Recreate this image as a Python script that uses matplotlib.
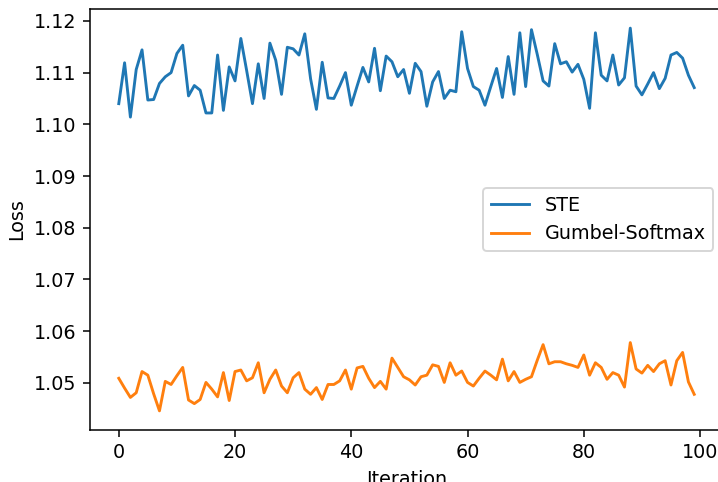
import matplotlib
matplotlib.use("Agg")
import matplotlib.pyplot as plt
import numpy as np

iterations = list(range(100))

ste_loss = [
    1.1040, 1.1119, 1.1014, 1.1106, 1.1144, 1.1047, 1.1048, 1.1079, 1.1092, 1.1100,
    1.1137, 1.1153, 1.1055, 1.1075, 1.1066, 1.1022, 1.1022, 1.1134, 1.1027, 1.1111,
    1.1084, 1.1166, 1.1104, 1.1040, 1.1117, 1.1050, 1.1157, 1.1124, 1.1058, 1.1149,
    1.1146, 1.1134, 1.1175, 1.1088, 1.1029, 1.1120, 1.1051, 1.1050, 1.1074, 1.1100,
    1.1037, 1.1074, 1.1110, 1.1082, 1.1147, 1.1065, 1.1132, 1.1121, 1.1092, 1.1106,
    1.1060, 1.1118, 1.1102, 1.1035, 1.1082, 1.1102, 1.1050, 1.1066, 1.1063, 1.1179,
    1.1108, 1.1073, 1.1066, 1.1037, 1.1073, 1.1108, 1.1052, 1.1131, 1.1058, 1.1177,
    1.1073, 1.1183, 1.1135, 1.1084, 1.1074, 1.1156, 1.1117, 1.1121, 1.1101, 1.1116,
    1.1087, 1.1031, 1.1177, 1.1095, 1.1084, 1.1134, 1.1076, 1.1090, 1.1186, 1.1074,
    1.1057, 1.1078, 1.1100, 1.1069, 1.1089, 1.1134, 1.1139, 1.1128, 1.1095, 1.1071,
]

gumbel_loss = [
    1.0509, 1.0490, 1.0472, 1.0481, 1.0522, 1.0515, 1.0479, 1.0446, 1.0503, 1.0497,
    1.0514, 1.0530, 1.0467, 1.0460, 1.0468, 1.0501, 1.0488, 1.0473, 1.0520, 1.0466,
    1.0522, 1.0525, 1.0504, 1.0510, 1.0539, 1.0481, 1.0507, 1.0525, 1.0494, 1.0481,
    1.0510, 1.0520, 1.0488, 1.0478, 1.0491, 1.0468, 1.0497, 1.0497, 1.0504, 1.0525,
    1.0488, 1.0529, 1.0532, 1.0509, 1.0491, 1.0503, 1.0488, 1.0548, 1.0530, 1.0512,
    1.0506, 1.0496, 1.0512, 1.0515, 1.0535, 1.0532, 1.0501, 1.0539, 1.0515, 1.0523,
    1.0501, 1.0494, 1.0509, 1.0523, 1.0515, 1.0506, 1.0546, 1.0504, 1.0522, 1.0501,
    1.0507, 1.0512, 1.0544, 1.0574, 1.0537, 1.0541, 1.0541, 1.0537, 1.0534, 1.0530,
    1.0554, 1.0515, 1.0539, 1.0530, 1.0507, 1.0520, 1.0515, 1.0492, 1.0578, 1.0527,
    1.0519, 1.0534, 1.0522, 1.0537, 1.0543, 1.0496, 1.0543, 1.0559, 1.0502, 1.0478,
]

series_labels = ["STE", "Gumbel-Softmax"]

DPI = 138
W, H = 718, 482
fig = plt.figure(figsize=(W / DPI, H / DPI), dpi=DPI)
ax = fig.add_axes([90 / W, 1 - 430 / H, (723 - 90) / W, (430 - 9) / H])

ax.plot(iterations, ste_loss, color="#1f77b4", lw=1.5, label=series_labels[0])
ax.plot(iterations, gumbel_loss, color="#ff7f0e", lw=1.5, label=series_labels[1])

ax.set_xlabel("Iteration")
ax.set_ylabel("Loss")
ax.legend(loc="center right", bbox_to_anchor=(1.0, 0.5), bbox_transform=ax.transAxes)

fig.savefig("out.png", dpi=DPI)
